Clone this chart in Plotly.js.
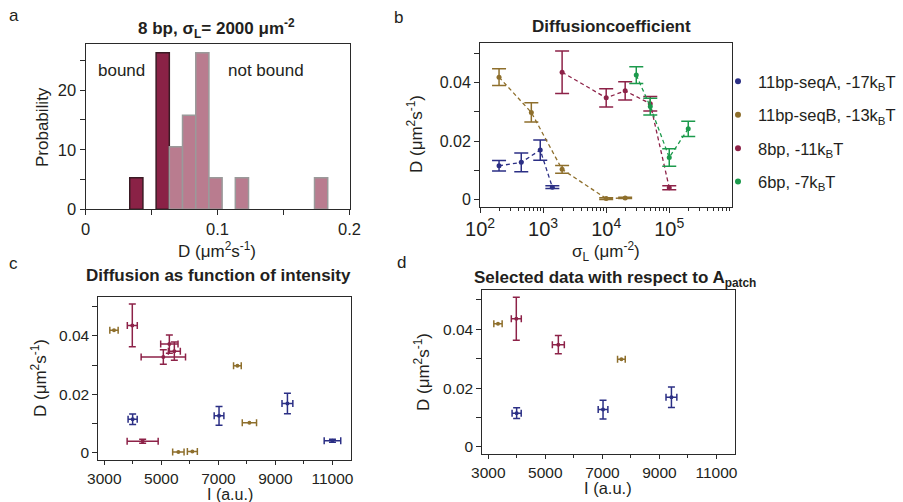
<!DOCTYPE html>
<html><head><meta charset="utf-8">
<script src="https://cdn.plot.ly/plotly-3.0.1.min.js"></script>
<style>html,body{margin:0;padding:0;background:#fff}#chart{width:903px;height:502px}</style>
</head><body><div id="chart"></div>
<script>
// ---------- Panel a: histogram (8 bp, sigma_L = 2000) ----------
const histBoundD = [0.0385, 0.0585];
const histBoundP = [5.3, 26.3];
const histFreeD = [0.0685, 0.0785, 0.0885, 0.0985, 0.1185, 0.1785];
const histFreeP = [10.5, 15.8, 26.3, 5.3, 5.3, 5.3];
const binWidth = 0.01;

// ---------- Panels b, c, d ----------
// 11bp-seqA
const sigA = [200, 450, 900, 1400];
const dA = [0.0115, 0.0127, 0.0169, 0.0042];
const dAerr = [0.0018, 0.0032, 0.0035, 0.0005];
const iA = [3994, 7023, 9421, 11000];
const iAerr = [160, 170, 190, 290];
// 11bp-seqB
const sigB = [200, 650, 2000, 10000, 20000];
const dB = [0.0419, 0.0298, 0.0103, 0.0003, 0.0005];
const dBerr = [0.0029, 0.0033, 0.0013, 0.0003, 0.0002];
const iB = [3340, 7667, 8088, 5597, 6088];
const iBerr = [146, 135, 250, 200, 175];
// 8bp
const sig8 = [2000, 10000, 20000, 50000, 100000];
const d8 = [0.0436, 0.0348, 0.0372, 0.0328, 0.0040];
const d8err = [0.0073, 0.0031, 0.0031, 0.0025, 0.0007];
const i8 = [3982, 5456, 5281, 5070, 4345];
const i8err = [175, 210, 304, 778, 544];
// 6bp
const sig6 = [30000, 50000, 100000, 200000];
const d6 = [0.0426, 0.0318, 0.0144, 0.0242];
const d6err = [0.0029, 0.0029, 0.0030, 0.0026];
// Panel d: selected points (indices)
const selA = [0, 1, 2];
const selB = [0, 1];
const sel8 = [0, 1];

const seriesNames = ['11bp-seqA, -17k<sub>B</sub>T', '11bp-seqB, -13k<sub>B</sub>T', '8bp, -11k<sub>B</sub>T', '6bp, -7k<sub>B</sub>T'];
const cA = '#2b2f85', cB = '#8e6f2c', c8 = '#8d2248', c6 = '#1c9a4c';
const ink = '#231f20';
const FONT = 'Liberation Sans, Arial, Helvetica, sans-serif';

const pick = (arr, idx) => idx.map(i => arr[i]);
const W = 903, H = 502;
const px = v => v / W, py = v => 1 - v / H;

const traces = [];
// Panel a bars
traces.push({type:'bar', x:histBoundD, y:histBoundP, width:binWidth, xaxis:'x', yaxis:'y', showlegend:false,
  marker:{color:'#8a2246', line:{color:'#3a1a24', width:1.5}}});
traces.push({type:'bar', x:histFreeD, y:histFreeP, width:binWidth, xaxis:'x', yaxis:'y', showlegend:false,
  marker:{color:'#b97c8f', line:{color:'#9a9a9a', width:1.5}}});

// Panel b lines with error bars
function bTrace(x, y, e, col){
  return {type:'scatter', mode:'lines+markers', x:x, y:y, xaxis:'x2', yaxis:'y2', showlegend:false,
    line:{color:col, width:1.3, dash:'4px,3px'}, marker:{color:col, size:5},
    error_y:{type:'data', array:e, visible:true, color:col, thickness:1.5, width:7}};
}
traces.push(bTrace(sigA, dA, dAerr, cA));
traces.push(bTrace(sigB, dB, dBerr, cB));
traces.push(bTrace(sig8, d8, d8err, c8));
traces.push(bTrace(sig6, d6, d6err, c6));

// Legend entries (markers only)
[[cA,0],[cB,1],[c8,2],[c6,3]].forEach(([col,i]) => {
  traces.push({type:'scatter', mode:'markers', x:[null], y:[null], xaxis:'x2', yaxis:'y2', name:seriesNames[i],
    legendgroup:'g'+i, marker:{color:col, size:6}});
});

// Panels c & d scatter with x/y errors
function cTrace(x, y, ex, ey, col, xa, ya){
  const t = {type:'scatter', mode:'markers', x:x, y:y, xaxis:xa, yaxis:ya, showlegend:false,
    marker:{color:col, size:4},
    error_x:{type:'data', array:ex, visible:true, color:col, thickness:1.5, width:3.5}};
  if (ey) t.error_y = {type:'data', array:ey, visible:true, color:col, thickness:1.5, width:3.5};
  return t;
}
traces.push(cTrace(iB, dB, iBerr, null, cB, 'x3', 'y3'));
traces.push(cTrace(i8, d8, i8err, d8err, c8, 'x3', 'y3'));
traces.push(cTrace(iA, dA, iAerr, dAerr, cA, 'x3', 'y3'));

traces.push(cTrace(pick(iB,selB), pick(dB,selB), pick(iBerr,selB), null, cB, 'x4', 'y4'));
traces.push(cTrace(pick(i8,sel8), pick(d8,sel8), pick(i8err,sel8), pick(d8err,sel8), c8, 'x4', 'y4'));
traces.push(cTrace(pick(iA,selA), pick(dA,selA), pick(iAerr,selA), pick(dAerr,selA), cA, 'x4', 'y4'));

const axBase = {showline:true, mirror:true, linecolor:'#2a2a2a', linewidth:1, ticks:'outside', ticklen:5, tickwidth:1,
  tickcolor:'#2a2a2a', showgrid:false, zeroline:false, tickfont:{size:16, color:ink, family:FONT}, fixedrange:true};
const ax = (o) => Object.assign({}, axBase, o);

const layout = {
  width:W, height:H, margin:{l:0, r:0, t:0, b:0, pad:0}, paper_bgcolor:'#fff', plot_bgcolor:'#fff',
  font:{family:FONT, color:ink}, barmode:'overlay', bargap:0,
  xaxis: ax({domain:[px(85.5), px(349.5)], range:[0, 0.2], anchor:'y', tick0:0, dtick:0.1,
    minor:{ticks:'outside', ticklen:5, dtick:0.05, tick0:0, tickcolor:'#2a2a2a'}, tickfont:{size:16.5, color:ink, family:FONT}}),
  yaxis: ax({domain:[py(209.3), py(44.3)], range:[0, 27.7], anchor:'x', tick0:0, dtick:10,
    minor:{ticks:'outside', ticklen:5, dtick:5, tick0:0, tickcolor:'#2a2a2a'}, tickfont:{size:16.5, color:ink, family:FONT}}),
  xaxis2: ax({domain:[px(480), px(732)], type:'log', range:[1.999, 5.995], anchor:'y2', dtick:1, exponentformat:'power',
    minor:{ticks:'outside', ticklen:3, dtick:'D1', tickcolor:'#2a2a2a'}}),
  yaxis2: ax({domain:[py(206.7), py(43.3)], range:[-0.0025, 0.0535], anchor:'x2', tick0:0, dtick:0.02,
    minor:{ticks:'outside', ticklen:5, dtick:0.01, tick0:0, tickcolor:'#2a2a2a'}}),
  xaxis3: ax({domain:[px(98.3), px(351)], range:[2790, 11650], anchor:'y3', tick0:3000, dtick:2000, tickformat:'d', ticklen:4,
    minor:{ticks:'outside', ticklen:3, dtick:1000, tick0:3000, tickcolor:'#2a2a2a'}, tickfont:{size:15.5, color:ink, family:FONT}}),
  yaxis3: ax({domain:[py(460), py(296.7)], range:[-0.0024, 0.0534], anchor:'x3', tick0:0, dtick:0.02,
    minor:{ticks:'outside', ticklen:5, dtick:0.01, tick0:0, tickcolor:'#2a2a2a'}, tickfont:{size:15.5, color:ink, family:FONT}}),
  xaxis4: ax({domain:[px(482.3), px(735)], range:[2790, 11650], anchor:'y4', tick0:3000, dtick:2000, tickformat:'d', ticklen:4,
    minor:{ticks:'outside', ticklen:3, dtick:1000, tick0:3000, tickcolor:'#2a2a2a'}, tickfont:{size:15.5, color:ink, family:FONT}}),
  yaxis4: ax({domain:[py(454), py(290)], range:[-0.0024, 0.0534], anchor:'x4', tick0:0, dtick:0.02,
    minor:{ticks:'outside', ticklen:5, dtick:0.01, tick0:0, tickcolor:'#2a2a2a'}, tickfont:{size:15.5, color:ink, family:FONT}}),
  showlegend:true,
  legend:{x:px(718), xanchor:'left', y:py(64), yanchor:'top', font:{size:16.5, color:ink, family:FONT},
    bgcolor:'rgba(0,0,0,0)', traceorder:'grouped', tracegroupgap:9, itemwidth:30},
  annotations:[]
};

function ann(text, x, y, size, opts){
  layout.annotations.push(Object.assign({text:text, x:px(x), y:py(y), xref:'paper', yref:'paper', showarrow:false,
    xanchor:'center', yanchor:'middle', font:{size:size, color:ink, family:FONT}}, opts || {}));
}
// Panel letters
ann('a', 14, 16, 17); ann('b', 398, 18, 17); ann('c', 13, 263, 17); ann('d', 401, 262, 17);
// Titles
ann('<b>8 bp, σ<sub>L</sub>= 2000 μm<sup>-2</sup></b>', 216, 29, 17);
ann('<b>Diffusioncoefficient</b>', 611, 27, 17);
ann('<b>Diffusion as function of intensity</b>', 218, 275, 17);
ann('<b>Selected data with respect to A<sub>patch</sub></b>', 615, 279, 17);
// Axis titles
ann('D (μm<sup>2</sup>s<sup>-1</sup>)', 217, 250, 17);
ann('Probability', 42, 127, 17, {textangle:-90});
ann('σ<sub>L</sub> (μm<sup>-2</sup>)', 606, 251, 17);
ann('D (μm<sup>2</sup>s<sup>-1</sup>)', 415, 134, 17, {textangle:-90});
ann('I (a.u.)', 230, 494.5, 16);
ann('D (μm<sup>2</sup>s<sup>-1</sup>)', 39, 378, 17, {textangle:-90});
ann('I (a.u.)', 608, 488, 16.5);
ann('D (μm<sup>2</sup>s<sup>-1</sup>)', 422, 372, 17, {textangle:-90});
// Histogram labels
ann('bound', 121, 71, 17);
ann('not bound', 266, 71, 17);

Plotly.newPlot('chart', traces, layout, {displayModeBar:false, staticPlot:true});
</script>
</body></html>
